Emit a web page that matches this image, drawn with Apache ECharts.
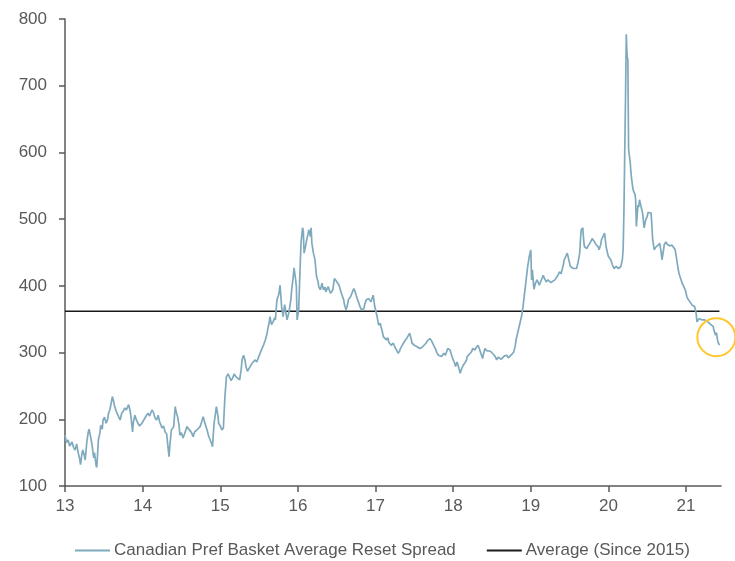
<!DOCTYPE html>
<html>
<head>
<meta charset="utf-8">
<script src="https://cdn.jsdelivr.net/npm/echarts@6/dist/echarts.min.js"></script>
<style>
  html, body { margin: 0; padding: 0; background: #ffffff; }
  #chart { width: 735px; height: 561px; }
</style>
</head>
<body>
<div id="chart"></div>
<script>
// Canadian pref basket average reset spread (bps), [year, value] by calendar year
var spread2013 = [[13.00,176],[13.02,165],[13.04,169],[13.06,160],[13.09,166],[13.11,158],[13.13,154],[13.15,163],[13.17,150],[13.19,140],[13.20,132],[13.22,150],[13.23,154],[13.25,145],[13.26,139],[13.28,165],[13.30,181],[13.31,185],[13.33,174],[13.35,160],[13.37,142],[13.38,150],[13.40,131],[13.41,128],[13.43,169],[13.45,180],[13.46,191],[13.48,185],[13.49,199],[13.51,203],[13.53,194],[13.55,200],[13.56,209],[13.58,215],[13.59,221],[13.61,234],[13.62,230],[13.64,219],[13.66,212],[13.69,204],[13.71,199],[13.73,209],[13.75,212],[13.77,217],[13.79,214],[13.82,222],[13.84,212],[13.85,204],[13.87,181],[13.88,195],[13.90,206],[13.92,199],[13.94,194],[13.96,190],[13.99,194]];
var spread2014 = [[14.01,198],[14.03,202],[14.05,206],[14.07,209],[14.09,205],[14.12,214],[14.14,210],[14.16,202],[14.18,199],[14.20,206],[14.22,196],[14.25,187],[14.27,190],[14.29,181],[14.31,178],[14.32,166],[14.34,144],[14.35,160],[14.37,184],[14.39,186],[14.40,189],[14.42,219],[14.43,212],[14.45,204],[14.47,190],[14.48,176],[14.50,180],[14.52,172],[14.54,178],[14.57,189],[14.59,186],[14.61,184],[14.63,180],[14.65,174],[14.67,181],[14.70,184],[14.72,186],[14.74,189],[14.76,196],[14.78,204],[14.80,195],[14.83,184],[14.85,175],[14.87,169],[14.89,163],[14.90,159],[14.92,194],[14.94,210],[14.95,219],[14.97,205],[14.98,194]];
var spread2015 = [[15.00,190],[15.02,184],[15.04,187],[15.06,234],[15.08,264],[15.10,268],[15.12,266],[15.14,258],[15.16,262],[15.18,268],[15.20,264],[15.22,262],[15.25,259],[15.27,275],[15.28,289],[15.30,296],[15.32,288],[15.33,279],[15.35,272],[15.36,274],[15.39,280],[15.41,284],[15.43,286],[15.45,289],[15.47,286],[15.49,292],[15.51,298],[15.53,304],[15.56,312],[15.58,319],[15.60,327],[15.61,334],[15.63,345],[15.64,354],[15.66,342],[15.68,346],[15.70,352],[15.71,349],[15.73,379],[15.75,386],[15.76,392],[15.77,401],[15.79,369],[15.81,354],[15.83,372],[15.84,364],[15.86,349],[15.88,358],[15.89,364],[15.91,380],[15.92,394],[15.94,414],[15.95,427],[15.97,410],[15.98,399],[15.99,349]];
var spread2016 = [[16.01,364],[16.02,399],[16.04,464],[16.06,487],[16.07,482],[16.08,449],[16.10,460],[16.11,467],[16.13,478],[16.14,484],[16.16,474],[16.17,487],[16.18,464],[16.20,449],[16.22,439],[16.24,414],[16.26,406],[16.27,398],[16.29,394],[16.31,404],[16.33,394],[16.35,398],[16.36,391],[16.39,399],[16.41,392],[16.42,389],[16.45,394],[16.47,411],[16.49,408],[16.50,409],[16.53,401],[16.56,389],[16.59,379],[16.60,372],[16.62,364],[16.64,372],[16.65,379],[16.68,384],[16.70,390],[16.72,396],[16.74,390],[16.75,386],[16.77,379],[16.80,369],[16.82,364],[16.85,366],[16.86,372],[16.88,379],[16.91,381],[16.94,376],[16.97,386],[16.99,369]];
var spread2017 = [[17.02,354],[17.04,341],[17.06,344],[17.07,339],[17.09,330],[17.10,324],[17.12,322],[17.14,319],[17.16,322],[17.17,316],[17.20,311],[17.23,314],[17.25,308],[17.27,304],[17.29,299],[17.31,302],[17.32,306],[17.34,310],[17.36,314],[17.38,318],[17.40,321],[17.42,325],[17.44,329],[17.46,320],[17.47,314],[17.50,311],[17.53,309],[17.55,307],[17.57,306],[17.60,308],[17.62,309],[17.65,314],[17.67,318],[17.70,321],[17.72,318],[17.74,316],[17.77,306],[17.79,300],[17.81,296],[17.83,298],[17.85,294],[17.88,299],[17.90,296],[17.93,306],[17.96,304],[17.98,296]];
var spread2018 = [[18.00,289],[18.02,284],[18.03,279],[18.05,286],[18.06,286],[18.08,274],[18.09,269],[18.11,276],[18.13,281],[18.15,279],[18.17,288],[18.18,294],[18.20,296],[18.22,299],[18.24,302],[18.25,306],[18.28,304],[18.30,308],[18.32,311],[18.34,305],[18.35,301],[18.38,291],[18.39,298],[18.41,306],[18.43,303],[18.45,301],[18.48,302],[18.50,304],[18.53,296],[18.55,292],[18.56,289],[18.58,293],[18.60,294],[18.62,290],[18.64,291],[18.66,295],[18.69,296],[18.71,292],[18.73,294],[18.76,298],[18.78,301],[18.80,310],[18.81,319],[18.83,329],[18.86,344],[18.88,354],[18.90,369],[18.92,389],[18.94,409],[18.96,429],[18.98,444]];
var spread2019 = [[19.00,454],[19.01,409],[19.02,424],[19.04,395],[19.06,404],[19.08,409],[19.09,411],[19.11,401],[19.12,404],[19.14,410],[19.16,416],[19.18,410],[19.20,406],[19.22,409],[19.24,411],[19.26,405],[19.28,406],[19.31,409],[19.33,411],[19.35,416],[19.37,421],[19.39,418],[19.40,416],[19.42,432],[19.43,439],[19.45,444],[19.47,449],[19.49,439],[19.51,429],[19.53,427],[19.55,426],[19.57,428],[19.59,426],[19.61,436],[19.63,449],[19.64,470],[19.65,484],[19.67,487],[19.68,470],[19.69,459],[19.71,458],[19.72,456],[19.74,460],[19.76,464],[19.78,468],[19.79,471],[19.82,466],[19.84,462],[19.85,464],[19.87,458],[19.88,454],[19.90,462],[19.91,469],[19.93,474],[19.95,479],[19.97,459],[19.99,448]];
var spread2020 = [[20.00,444],[20.02,442],[20.03,439],[20.05,432],[20.07,426],[20.09,428],[20.10,429],[20.12,427],[20.13,426],[20.15,428],[20.16,429],[20.18,440],[20.19,456],[20.20,514],[20.21,600],[20.22,680],[20.23,777],[20.24,745],[20.25,739],[20.26,604],[20.27,595],[20.28,586],[20.29,570],[20.30,559],[20.31,550],[20.32,543],[20.34,538],[20.35,531],[20.36,489],[20.37,505],[20.38,521],[20.39,518],[20.40,529],[20.41,524],[20.42,519],[20.44,509],[20.46,487],[20.48,499],[20.50,504],[20.51,510],[20.53,509],[20.55,509],[20.56,490],[20.57,469],[20.59,454],[20.61,458],[20.62,459],[20.64,461],[20.66,464],[20.68,450],[20.69,439],[20.71,454],[20.72,462],[20.74,466],[20.76,462],[20.77,464],[20.79,460],[20.80,459],[20.82,461],[20.84,459],[20.86,454],[20.88,439],[20.90,424],[20.91,418],[20.93,411],[20.95,404],[20.97,399],[20.99,394]];
var spread2021 = [[21.01,384],[21.02,381],[21.03,379],[21.05,376],[21.06,374],[21.08,371],[21.09,369],[21.11,369],[21.12,364],[21.13,359],[21.14,346],[21.16,348],[21.17,351],[21.19,350],[21.20,349],[21.22,347],[21.24,349],[21.26,347],[21.28,346],[21.30,344],[21.32,342],[21.35,339],[21.36,333],[21.37,331],[21.38,326],[21.39,330],[21.40,329],[21.41,316],[21.42,318],[21.43,311]];

// Average spread since 2015 and the span it is drawn across
var averageSince2015 = 362;
var averageSpan = [13.00, 21.43];

// Latest reading, ringed
var latestHighlight = [21.39, 323];

// Axis ticks
var yearTicks = ['13', '14', '15', '16', '17', '18', '19', '20', '21'];
var spreadTicks = [100, 200, 300, 400, 500, 600, 700, 800];

var seriesNames = ['Canadian Pref Basket Average Reset Spread', 'Average (Since 2015)'];

var spreadData = [].concat(spread2013, spread2014, spread2015, spread2016,
  spread2017, spread2018, spread2019, spread2020, spread2021);
var averageData = averageSpan.map(function (x) { return [x, averageSince2015]; });

var FONT = "'Liberation Sans Narrow', 'Arial Narrow', 'Liberation Sans', Arial, sans-serif";
var TEXT = '#595959';
var BLUE = '#7FAABD';

var chart = echarts.init(document.getElementById('chart'), null, { renderer: 'canvas' });
chart.setOption({
  animation: false,
  backgroundColor: '#ffffff',
  grid: { left: 65, right: 14, top: 19, bottom: 75, containLabel: false },
  legend: {
    left: 70,
    top: 537,
    itemWidth: 35,
    itemHeight: 2,
    itemGap: 31,
    icon: 'rect',
    textStyle: { fontFamily: FONT, fontSize: 17, color: TEXT, padding: [0, 0, 0, -1] },
    data: seriesNames
  },
  xAxis: {
    type: 'value',
    min: 13,
    max: 21.45,
    interval: 1,
    axisLine: { show: true, lineStyle: { color: '#595959', width: 1.5 } },
    axisTick: { show: true, inside: false, length: 6, lineStyle: { color: '#595959', width: 1.5 } },
    axisLabel: {
      fontFamily: FONT, fontSize: 17, color: TEXT, margin: 12,
      showMaxLabel: false,
      formatter: function (v) {
        var s = String(Math.round(v));
        return yearTicks.indexOf(s) >= 0 ? s : '';
      }
    },
    splitLine: { show: false }
  },
  yAxis: {
    type: 'value',
    min: spreadTicks[0],
    max: spreadTicks[spreadTicks.length - 1],
    interval: 100,
    axisLine: { show: true, lineStyle: { color: '#595959', width: 1.5 } },
    axisTick: { show: true, inside: false, length: 6, lineStyle: { color: '#595959', width: 1.5 } },
    axisLabel: { fontFamily: FONT, fontSize: 17, color: TEXT, margin: 18 },
    splitLine: { show: false }
  },
  series: [
    {
      name: seriesNames[0],
      type: 'line',
      data: spreadData,
      symbol: 'none',
      lineStyle: { color: BLUE, width: 1.7 },
      itemStyle: { color: BLUE },
      z: 3,
      markPoint: {
        symbol: 'circle',
        symbolSize: 38,
        silent: true,
        label: { show: false },
        itemStyle: { color: 'rgba(0,0,0,0)', borderColor: '#FFC72C', borderWidth: 2 },
        data: [{ coord: latestHighlight }]
      }
    },
    {
      name: seriesNames[1],
      type: 'line',
      data: averageData,
      symbol: 'none',
      lineStyle: { color: '#1a1a1a', width: 1.5 },
      itemStyle: { color: '#1a1a1a' },
      z: 2
    }
  ]
});
</script>
</body>
</html>
